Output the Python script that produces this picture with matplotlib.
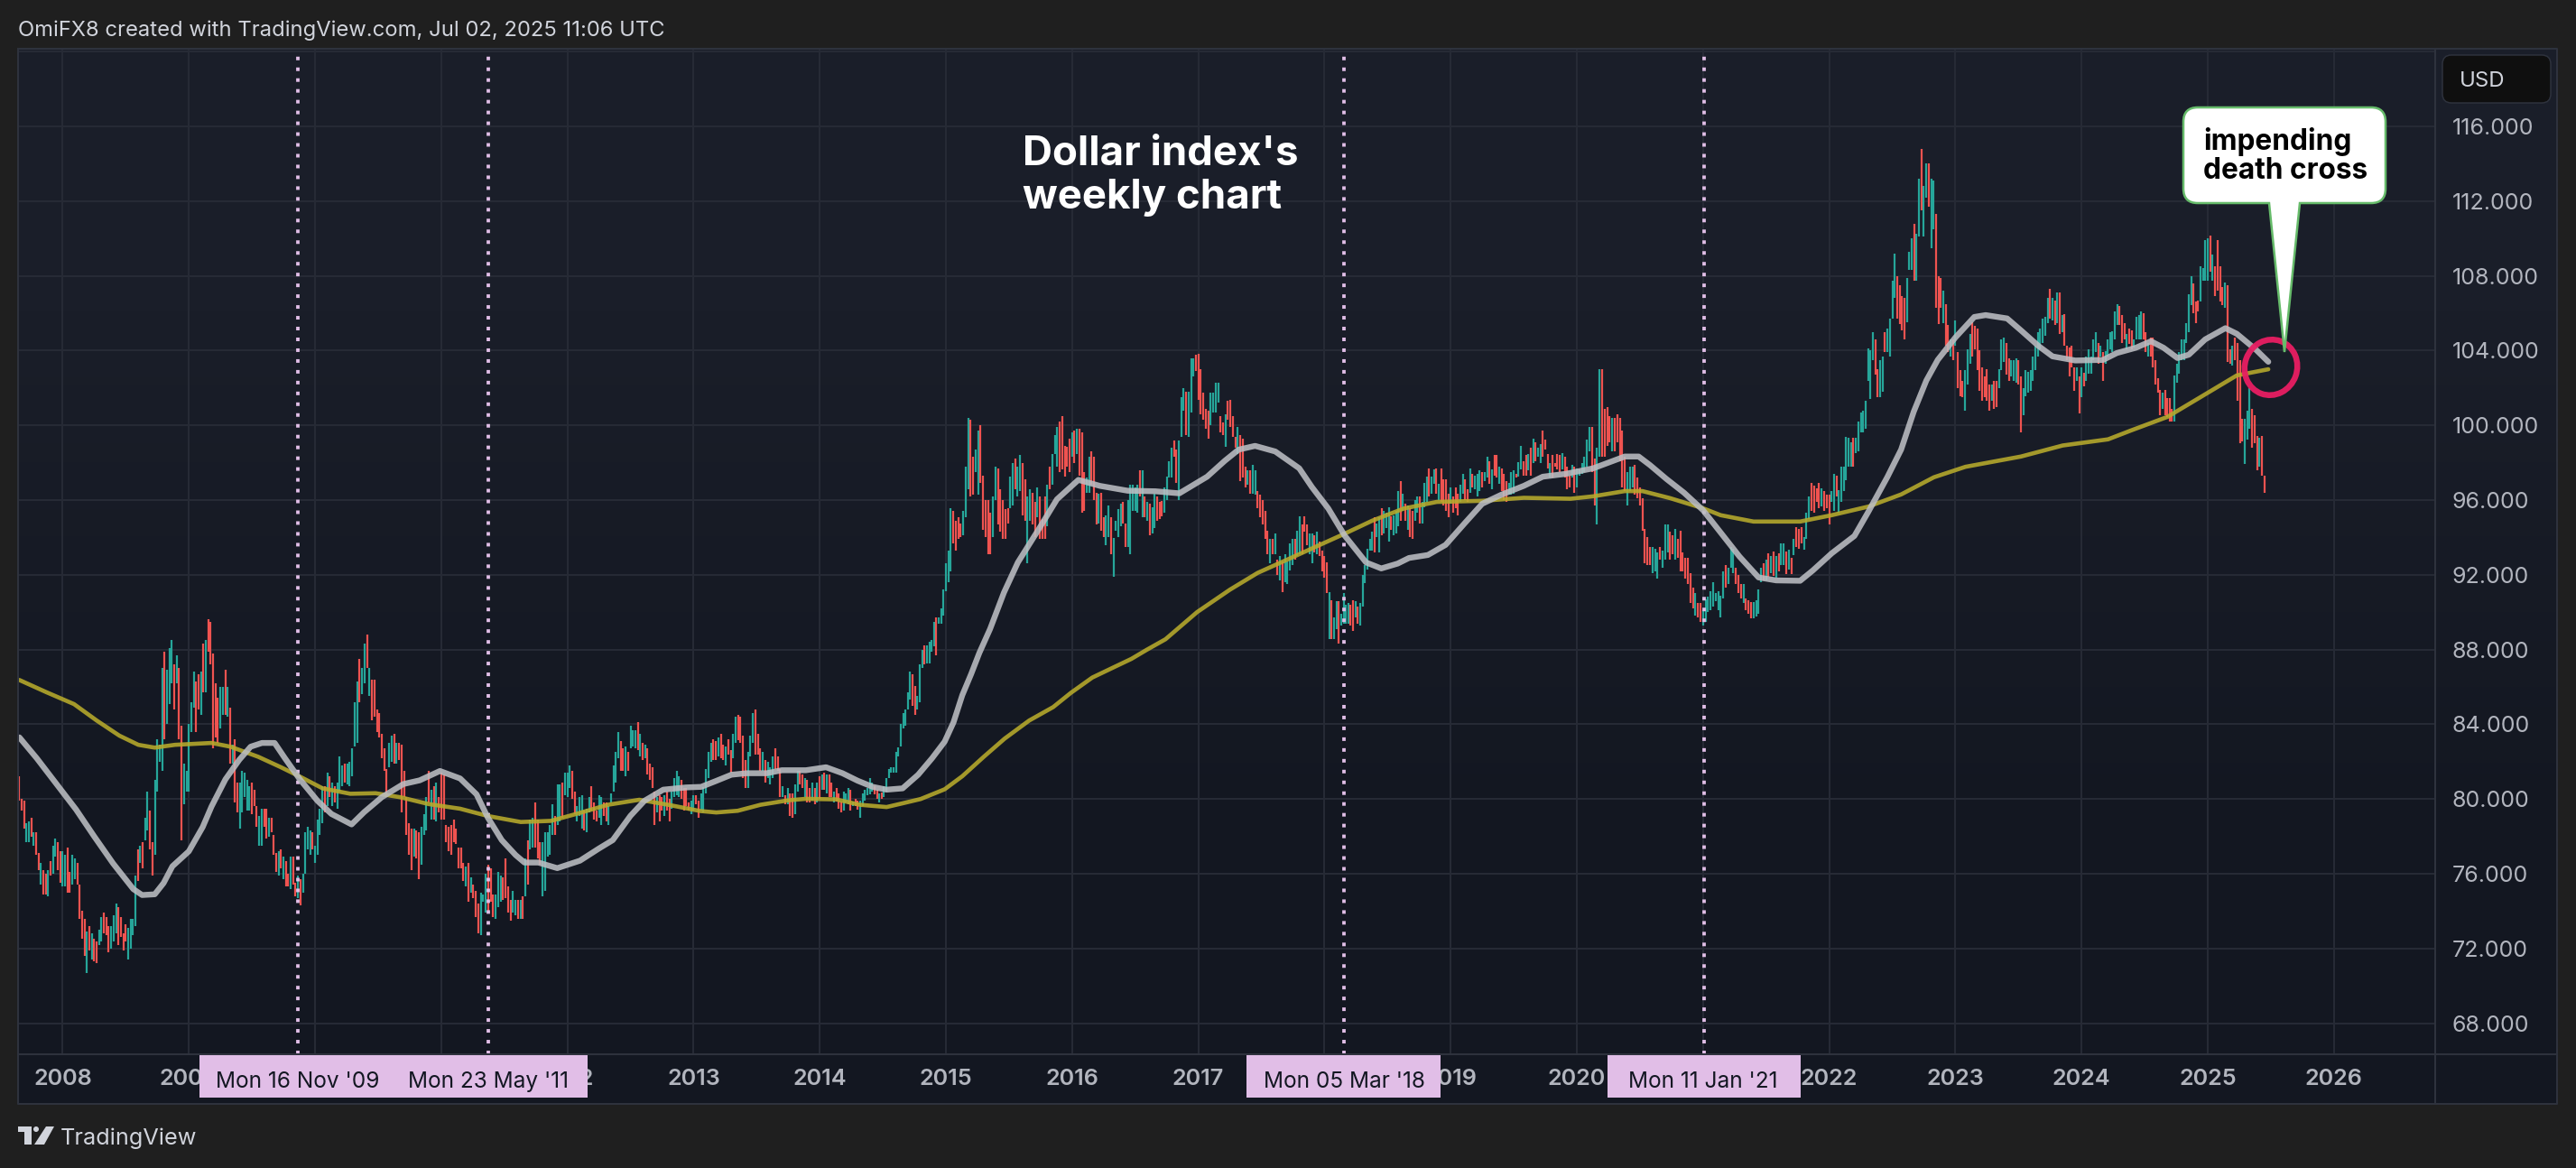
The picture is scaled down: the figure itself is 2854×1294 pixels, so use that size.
import numpy as np
import matplotlib
matplotlib.use("Agg")
import matplotlib.pyplot as plt
from matplotlib.collections import LineCollection
from matplotlib.patches import Ellipse, FancyBboxPatch, PathPatch, Polygon, Rectangle
from matplotlib.path import Path

bars_2007 = [81.2,79.9, 80.0,79.4, 79.9,78.4, 77.7,78.7, 77.7,78.8, 79.0,78.0, 77.5,78.2, 78.2,77.0, 77.1,76.2,
             75.4,76.6, 76.2,74.9, 76.0,74.9, 74.8,76.2, 76.7,75.9, 76.0,77.5, 76.9,77.9, 77.7,76.2, 77.2,75.5]
bars_2008 = [75.3,77.2, 75.3,77.0, 77.4,75.0, 76.1,75.0, 75.4,77.0, 75.7,76.8, 76.6,75.4, 75.4,73.6, 74.0,72.5,
             73.6,71.6, 70.7,72.9, 73.2,71.9, 71.4,72.8, 72.5,71.3, 72.4,71.2, 72.2,73.0, 72.4,73.7, 73.9,72.8,
             73.7,72.7, 73.2,71.8, 72.0,73.2, 72.4,73.8, 72.8,74.4, 74.2,72.2, 73.7,72.6, 72.8,71.9, 73.3,72.4,
             71.4,73.1, 72.0,73.6, 72.7,73.6, 73.2,75.9, 77.3,75.6, 76.6,77.5, 77.7,76.3, 77.8,79.0, 78.3,80.4,
             79.4,77.3, 77.7,75.9, 77.0,81.0, 80.4,83.2, 82.0,82.9, 81.5,87.0, 87.9,83.2, 84.0,86.9, 85.1,88.1,
             86.2,88.5, 87.2,84.8, 86.2,87.7, 87.0,83.2, 83.9,77.8, 79.7,81.9, 80.4,81.5]
bars_2009 = [80.4,84.0, 83.6,85.2, 84.9,86.8, 86.3,83.6, 86.7,84.8, 84.5,86.8, 88.3,85.7, 85.7,88.5, 89.6,87.9,
             89.5,87.2, 87.8,82.7, 86.2,83.3, 85.4,83.0, 83.8,86.0, 84.5,86.0, 86.9,84.5, 84.4,86.0, 84.9,81.9,
             81.9,82.9, 83.2,79.8, 80.9,79.3, 78.4,80.9, 79.3,81.5, 80.1,81.4, 79.4,81.0, 79.4,80.7, 80.9,79.2,
             80.5,79.6, 79.6,78.5, 77.5,79.1, 77.5,79.5, 79.5,78.5, 79.5,77.9, 78.0,79.0, 79.0,78.2, 78.1,77.0,
             77.1,76.1, 75.9,77.2, 77.3,76.3, 75.7,76.9, 76.7,75.3, 76.0,75.3, 75.2,76.9, 76.9,75.4, 75.5,74.8,
             74.7,75.9, 75.7,74.3, 75.0,76.0, 76.0,78.2, 77.3,78.5, 77.0,78.3, 78.2,77.3]
bars_2010 = [76.6,77.5, 77.0,78.9, 78.1,79.5, 78.7,80.7, 80.7,79.3, 79.6,81.4, 81.2,80.1, 79.6,80.9, 80.7,79.8,
             79.5,80.9, 80.4,82.3, 80.7,81.8, 81.9,80.9, 80.8,81.9, 80.7,82.0, 81.2,82.7, 82.8,85.2, 83.0,86.3,
             87.5,85.2, 85.6,87.0, 86.2,88.3, 88.8,87.0, 85.5,87.0, 86.4,84.2, 86.4,84.4, 84.8,83.6, 84.6,83.3,
             83.5,82.2, 82.7,81.5, 81.6,80.1, 81.7,83.0, 82.0,83.4, 83.5,81.9, 81.9,83.0, 83.0,82.1, 82.9,79.3,
             81.5,80.1, 80.1,78.1, 78.7,77.0, 78.4,76.2, 76.9,78.4, 78.3,76.8, 78.2,75.7, 76.5,78.5, 78.1,79.2,
             78.3,80.1, 81.5,79.8, 78.9,80.5, 80.7,78.9, 78.8,80.9, 80.1,79.3]
bars_2011 = [81.4,78.9, 81.3,78.9, 78.6,77.7, 78.5,77.2, 78.6,77.0, 78.9,77.7, 78.4,77.6, 77.4,76.3, 77.4,76.3,
             76.6,75.6, 75.3,76.4, 76.6,74.5, 75.0,75.8, 75.4,74.7, 75.1,73.7, 74.4,72.8, 72.7,75.0, 74.5,74.9,
             73.9,76.0, 76.5,74.0, 76.3,74.5, 74.9,73.7, 73.6,74.9, 74.2,76.1, 74.5,75.9, 75.8,74.6, 76.8,74.7,
             75.3,73.9, 74.6,73.5, 73.9,75.1, 73.8,74.6, 74.6,73.6, 73.6,74.6, 74.8,73.6, 74.8,76.8, 77.8,75.4,
             77.3,78.9, 77.4,79.0, 79.8,77.4, 78.9,76.8, 77.7,76.5, 74.8,77.7, 75.1,78.2, 76.9,78.2, 77.0,78.6,
             78.1,79.7, 79.1,78.1, 78.6,80.8, 78.8,80.8, 80.9,79.0, 80.2,81.4]
bars_2012 = [80.1,81.4, 80.6,81.8, 81.5,80.0, 80.4,79.2, 78.8,79.6, 79.1,80.1, 78.4,80.2, 79.4,78.3, 78.2,79.5,
             79.3,80.1, 80.7,79.4, 79.8,78.9, 79.4,78.8, 79.0,80.2, 78.6,80.1, 79.8,79.1, 79.8,78.8, 78.6,79.6,
             79.8,80.3, 80.4,81.8, 80.9,82.5, 82.2,83.6, 83.1,81.5, 82.7,81.5, 81.2,82.8, 82.5,81.5, 82.7,83.9,
             82.8,83.7, 82.7,83.7, 84.1,82.6, 82.3,83.5, 83.0,82.1, 82.2,82.9, 82.7,81.3, 81.9,81.0, 81.7,80.6,
             80.4,78.6, 79.3,80.1, 80.2,78.8, 80.1,79.4, 79.1,80.2, 80.4,79.4, 80.0,78.8, 79.5,80.4, 80.1,81.1,
             80.2,81.5, 80.1,81.2, 81.0,80.0, 80.6,79.4, 80.6,79.6, 79.8,79.4, 79.2,79.9]
bars_2013 = [79.4,80.2, 80.2,79.7, 79.9,79.0, 79.4,80.3, 79.3,80.65, 80.3,81.6, 81.1,82.5, 82.0,83.0, 83.2,82.1,
             83.1,82.1, 82.3,83.3, 83.5,82.2, 82.9,82.1, 81.8,82.8, 83.2,82.4, 82.6,81.4, 82.2,83.5, 83.0,84.4,
             84.5,83.15, 84.4,83.0, 83.4,81.1, 82.1,80.6, 80.6,82.5, 82.3,83.4, 83.0,84.6, 84.8,82.4, 83.5,82.4,
             82.7,81.5, 81.5,82.5, 82.1,80.9, 81.1,82.0, 80.8,81.7, 81.1,82.3, 82.7,81.6, 82.3,81.5, 81.6,80.1,
             80.1,80.7, 80.2,79.7, 79.7,80.6, 80.3,79.1, 80.3,79.0, 79.2,80.8, 80.4,81.5, 81.5,80.8, 81.3,80.6,
             80.1,81.1, 81.0,79.8, 80.6,79.8, 79.9,80.9, 80.6,79.7, 79.8,80.9]
bars_2014 = [81.2,80.0, 80.5,81.3, 81.4,80.5, 80.3,81.3, 81.3,80.1, 80.9,80.1, 79.8,80.4, 80.6,79.85, 80.3,79.5,
             79.85,79.3, 79.4,80.4, 79.8,80.3, 79.7,80.6, 80.5,79.4, 79.6,79.85, 80.0,79.6, 79.9,79.45, 79.0,79.9,
             79.6,80.3, 79.9,80.5, 80.2,80.6, 80.25,81.1, 80.4,80.9, 80.7,80.25, 80.5,80.0, 79.8,80.3, 80.35,80.0,
             80.1,80.7, 80.4,81.1, 81.1,81.6, 81.4,81.7, 81.4,81.7, 81.4,82.5, 82.3,82.75, 82.8,84.0, 83.8,84.6,
             83.9,84.8, 84.8,85.7, 85.3,86.8, 86.66,85.0, 86.05,84.5, 84.8,85.5, 85.2,87.2, 87.0,88.0, 88.2,87.2,
             87.26,88.2, 87.26,88.4, 87.9,88.5, 88.15,89.5, 89.7,87.7, 89.4,89.7, 89.4,90.2, 89.8,91.2]
bars_2015 = [91.1,92.6, 91.6,93.3, 92.2,95.55, 95.4,93.7, 94.9,93.3, 95.1,93.9, 94.75,94.0, 94.1,95.4, 95.1,97.8,
             96.6,100.4, 100.3,96.2, 98.3,96.3, 97.5,98.7, 96.3,99.7, 100.0,96.9, 97.3,94.4, 96.0,94.0, 96.0,93.1,
             95.3,93.1, 94.0,96.2, 96.0,97.8, 97.7,94.7, 96.6,94.3, 96.0,93.9, 95.5,93.9, 95.55,94.75, 95.55,97.25,
             95.7,98.0, 98.2,96.6, 96.2,97.8, 96.5,98.4, 98.0,95.2, 97.1,94.9, 92.6,96.2, 94.9,96.6, 96.4,94.7,
             95.9,94.0, 95.1,96.7, 96.2,93.9, 95.0,93.9, 96.2,93.9, 94.6,96.8, 97.8,96.6, 96.8,98.45, 98.45,99.5,
             97.8,99.9, 100.2,97.5, 100.5,97.65, 98.9,97.25, 98.85,97.8, 99.3,97.5]
bars_2016 = [98.3,99.6, 99.7,98.0, 98.45,99.8, 99.8,97.3, 99.6,95.3, 97.5,95.4, 96.4,97.2, 96.4,98.3, 98.6,96.8,
             98.3,96.0, 96.4,94.7, 94.75,96.35, 96.4,94.35, 95.1,94.0, 93.6,95.2, 94.0,95.7, 95.1,93.1, 91.9,93.95,
             94.35,94.9, 94.0,95.5, 94.6,95.8, 95.9,94.75, 94.75,93.5, 93.5,96.0, 93.1,96.8, 95.4,96.8, 95.4,96.7,
             95.3,96.8, 97.6,96.2, 95.1,97.6, 96.2,95.1, 94.9,95.9, 95.8,94.1, 94.2,95.6, 94.5,96.35, 96.2,94.9,
             95.9,95.0, 95.95,95.15, 95.3,96.7, 96.0,97.25, 97.2,98.1, 97.2,98.8, 99.2,98.3, 98.7,96.9, 96.0,99.2,
             99.4,101.5, 100.8,102.0, 101.8,99.5, 99.4,101.8, 100.7,103.6, 102.6,103.6, 103.8,102.9]
bars_2017 = [103.85,101.35, 103.0,100.6, 101.75,100.3, 100.9,99.8, 100.8,99.3, 100.0,101.75, 100.7,101.75, 100.7,102.3,
             101.2,102.3, 100.5,99.6, 100.15,99.5, 98.85,100.6, 101.3,100.3, 101.35,99.9, 100.5,99.4, 99.4,98.8,
             98.45,99.9, 99.5,97.0, 99.3,97.2, 97.8,96.7, 96.8,97.6, 97.6,96.35, 96.35,97.9, 96.3,97.6, 96.5,95.55,
             96.3,95.1, 96.0,94.7, 95.4,93.9, 94.35,93.1, 92.6,93.9, 93.9,93.1, 93.1,94.2, 92.8,92.0, 91.7,93.0,
             92.7,91.05, 91.6,93.1, 91.5,92.7, 92.25,93.7, 92.5,93.9, 93.9,92.8, 93.0,94.35, 93.1,95.15, 94.7,93.1,
             95.15,94.3, 94.7,93.6, 93.1,94.2, 92.6,94.2, 94.1,93.2, 93.1,94.3, 93.8,93.0, 93.3,92.2]
bars_2018 = [93.0,91.85, 92.65,91.0, 88.55,91.05, 90.65,88.55, 88.55,89.7, 89.1,90.6, 90.6,88.3, 89.3,89.9, 89.4,91.0,
             89.4,90.4, 89.4,90.5, 90.4,89.3, 90.65,89.0, 89.7,90.6, 90.3,89.4, 89.3,90.5, 90.3,92.0, 91.55,92.5,
             92.3,93.4, 93.3,93.9, 93.3,94.3, 95.1,93.2, 94.0,94.75, 93.2,95.1, 95.55,94.1, 94.2,95.4, 94.5,95.3,
             93.8,95.6, 95.15,94.4, 94.1,95.2, 94.2,95.4, 94.6,96.5, 97.0,94.9, 95.4,96.35, 95.8,94.9, 94.4,95.7,
             95.55,94.0, 95.4,93.9, 94.9,96.0, 95.3,96.2, 96.2,94.75, 94.75,95.9, 95.6,96.9, 95.9,97.25, 97.7,96.2,
             96.35,97.25, 96.85,97.65, 97.7,96.35, 96.0,96.85, 97.7,95.9, 97.1,95.7, 97.1,95.4, 96.35,95.1]
bars_2019 = [95.8,96.7, 96.2,95.3, 96.7,95.55, 96.35,95.2, 95.9,96.8, 96.35,97.4, 97.1,96.0, 96.6,95.9, 96.4,97.7,
             97.4,96.7, 96.6,97.3, 96.2,97.4, 96.5,97.6, 97.5,96.7, 97.0,97.5, 97.2,98.3, 98.1,96.85, 96.6,97.65,
             98.4,97.3, 98.4,97.2, 96.85,97.8, 97.7,96.5, 97.4,96.0, 97.0,95.9, 96.3,96.9, 96.3,97.5, 96.35,97.6,
             97.4,97.2, 97.25,98.05, 97.65,98.9, 98.1,97.3, 98.4,97.3, 97.6,98.45, 98.8,97.3, 98.0,99.3, 99.1,98.1,
             98.3,98.8, 98.0,99.0, 99.7,98.3, 99.25,98.7, 98.45,97.7, 97.2,98.0, 98.4,97.2, 98.0,97.8, 98.45,97.65,
             98.4,97.5, 97.65,98.5, 98.3,97.2, 97.8,96.6, 97.3,96.7, 97.2,97.9, 97.8,96.4]
bars_2020 = [96.7,97.7, 97.3,97.65, 97.4,98.0, 97.5,98.3, 97.8,99.25, 98.6,99.9, 99.9,97.5, 98.2,95.7, 94.7,98.8,
             98.3,103.0, 103.0,98.3, 100.9,98.3, 101.0,98.9, 100.5,99.1, 98.6,100.4, 100.4,98.6, 100.6,99.1, 100.4,98.1,
             99.7,96.7, 98.3,96.5, 95.7,97.5, 96.5,97.8, 96.7,97.8, 97.9,96.3, 97.2,96.1, 96.7,95.7, 96.1,94.35,
             94.45,92.6, 94.0,92.5, 93.5,92.5, 92.1,93.5, 92.2,93.4, 91.8,93.2, 93.5,92.8, 92.4,93.3, 92.8,94.7,
             93.2,94.7, 94.3,92.8, 94.1,93.1, 92.8,94.45, 93.9,92.9, 94.35,92.2, 93.2,92.2, 92.9,91.8, 92.9,91.5,
             92.1,90.5, 91.3,90.2, 89.8,91.0, 90.5,89.7, 90.5,89.5]
bars_2021 = [89.3,90.1, 89.5,90.7, 90.0,90.85, 90.1,91.1, 90.3,91.6, 90.6,91.0, 90.1,91.1, 89.7,90.9, 90.75,92.2,
             92.5,91.3, 91.5,92.4, 92.4,93.5, 92.1,93.4, 92.4,91.5, 92.0,91.0, 91.5,90.75, 90.5,91.5, 90.75,90.1,
             90.65,89.9, 90.55,89.65, 89.65,90.55, 89.75,90.65, 89.9,91.2, 91.6,92.4, 92.6,91.7, 91.7,92.8, 93.15,91.9,
             92.1,93.0, 93.25,91.95, 91.85,93.0, 93.15,92.2, 92.5,93.7, 92.5,93.7, 93.25,92.05, 92.3,93.35, 92.9,92.05,
             93.05,93.9, 94.55,93.5, 94.45,93.4, 94.55,93.7, 93.35,94.0, 93.9,95.3, 95.0,96.2, 96.9,95.4, 96.75,95.3,
             96.65,95.9, 96.9,95.55, 95.65,96.65, 96.5,95.4, 96.3,95.55]
bars_2022 = [96.3,94.7, 95.9,96.5, 95.4,97.4, 97.3,96.2, 95.3,96.55, 95.9,97.8, 96.5,97.8, 97.05,99.4, 97.8,99.35,
             97.8,99.1, 99.35,97.8, 98.5,99.35, 98.6,100.2, 99.6,100.7, 99.6,100.8, 99.8,101.3, 102.4,104.1, 101.4,104.0,
             103.5,105.0, 104.6,102.7, 103.0,101.5, 101.5,103.5, 101.8,103.7, 105.0,103.9, 103.9,105.2, 103.7,105.7,
             105.7,107.75, 106.8,109.2, 108.0,105.7, 107.5,105.4, 106.9,105.1, 106.8,104.6, 105.5,107.9, 108.3,109.3,
             108.3,110.0, 110.8,107.75, 107.75,110.25, 110.1,113.2, 114.8,111.5, 110.1,112.8, 112.2,114.0, 114.0,111.7,
             109.5,113.2, 110.5,113.1, 111.3,106.3, 108.0,105.4, 107.9,106.3, 105.45,107.2, 106.5,104.25, 105.35,103.9,
             103.7,104.6, 104.6,103.5]
bars_2023 = [104.25,105.6, 103.9,102.0, 102.95,101.55, 102.4,101.5, 100.8,102.95, 102.2,104.05, 103.3,104.9, 105.5,103.7,
             105.3,104.05, 105.2,102.95, 104.0,101.85, 103.1,101.3, 102.6,101.5, 103.0,101.3, 102.2,100.8, 101.3,102.2,
             102.4,100.9, 102.4,101.0, 102.0,103.0, 102.95,104.6, 103.4,104.7, 104.4,102.7, 103.6,102.4, 102.6,103.5,
             102.4,103.5, 102.3,103.6, 103.5,102.2, 102.6,99.6, 100.55,102.0, 101.55,102.95, 101.75,102.85, 101.85,102.95,
             102.4,103.7, 102.95,104.25, 103.7,105.0, 104.05,105.2, 104.4,105.7, 104.8,105.8, 105.45,106.8, 107.3,105.7,
             105.6,106.8, 106.7,105.35, 105.45,107.1, 107.1,104.9, 105.0,105.9, 105.95,104.25, 104.25,103.5, 104.15,102.6,
             104.25,103.1, 103.1,101.85, 102.4,103.1, 102.6,100.65]
bars_2024 = [101.5,103.1, 102.8,102.1, 102.4,103.7, 102.75,104.05, 102.75,103.7, 103.5,104.6, 103.9,105.0, 104.4,103.3,
             103.7,104.25, 103.9,102.4, 103.3,103.95, 103.7,104.6, 104.05,105.0, 103.9,105.05, 104.6,106.1, 105.35,106.5,
             106.4,105.35, 105.9,104.4, 105.45,104.6, 104.05,104.9, 105.2,104.35, 105.1,104.05, 104.15,104.6, 104.6,105.8,
             104.6,105.9, 104.6,106.1, 106.0,104.6, 105.0,103.9, 103.7,104.4, 104.7,103.7, 104.7,103.1, 103.5,102.2,
             102.5,101.75, 101.9,100.55, 100.9,101.75, 101.9,100.55, 101.45,100.45, 101.45,100.2, 100.9,100.2, 100.2,102.65,
             102.3,103.3, 102.75,103.9, 103.5,104.6, 103.5,104.6, 104.4,105.45, 105.0,107.0, 106.45,108.0, 107.6,106.0,
             106.65,105.45, 106.7,106.1, 106.65,108.5, 107.75,108.4, 107.75,109.9]
bars_2025 = [107.75,110.0, 110.15,108.2, 107.75,109.15, 108.5,106.9, 109.9,107.2, 108.5,106.65, 107.4,106.45, 106.3,107.65,
             107.5,103.4, 104.05,103.3, 103.2,104.25, 104.7,103.5, 104.4,101.3, 103.5,99.05, 100.35,99.15, 97.95,100.35,
             99.25,100.8, 99.8,102.0, 100.9,98.8, 100.55,99.05, 99.45,97.6, 97.8,99.35, 99.45,97.3, 97.3,96.4]

bars_by_year = {2007: bars_2007, 2008: bars_2008, 2009: bars_2009, 2010: bars_2010, 2011: bars_2011,
                2012: bars_2012, 2013: bars_2013, 2014: bars_2014, 2015: bars_2015, 2016: bars_2016,
                2017: bars_2017, 2018: bars_2018, 2019: bars_2019, 2020: bars_2020, 2021: bars_2021,
                2022: bars_2022, 2023: bars_2023, 2024: bars_2024, 2025: bars_2025}

# the two moving averages, read at turning points
ma50_t = [2007.657, 2007.795, 2007.94, 2008.106, 2008.25, 2008.40, 2008.56, 2008.63, 2008.73, 2008.80, 2008.87, 2009.0,
          2009.11, 2009.18, 2009.29, 2009.40, 2009.49, 2009.58, 2009.68, 2009.76, 2009.88, 2010.02, 2010.13, 2010.29,
          2010.39, 2010.53, 2010.7, 2010.83, 2010.99, 2011.15, 2011.28, 2011.37, 2011.48, 2011.59, 2011.66, 2011.77,
          2011.92, 2012.10, 2012.25, 2012.36, 2012.50, 2012.61, 2012.76, 2012.94, 2013.06, 2013.18, 2013.30, 2013.42,
          2013.58, 2013.70, 2013.89, 2014.05, 2014.18, 2014.30, 2014.42, 2014.53, 2014.657, 2014.78, 2014.89, 2014.99,
          2015.06, 2015.13, 2015.2, 2015.265, 2015.35, 2015.46, 2015.57, 2015.72, 2015.88, 2016.05, 2016.22, 2016.44,
          2016.66, 2016.85, 2017.07, 2017.21, 2017.32, 2017.45, 2017.61, 2017.80, 2017.90, 2018.03, 2018.16, 2018.33,
          2018.45, 2018.58, 2018.67, 2018.82, 2018.96, 2019.11, 2019.25, 2019.40, 2019.58, 2019.73, 2019.91, 2020.13,
          2020.38, 2020.49, 2020.58, 2020.71, 2020.85, 2021.0, 2021.14, 2021.29, 2021.44, 2021.58, 2021.77, 2021.87,
          2022.02, 2022.2, 2022.31, 2022.46, 2022.57, 2022.67, 2022.77, 2022.86, 2023.0, 2023.15, 2023.24, 2023.41,
          2023.52, 2023.66, 2023.77, 2023.95, 2024.17, 2024.28, 2024.43, 2024.55, 2024.65, 2024.76, 2024.85, 2024.98,
          2025.14, 2025.23, 2025.38, 2025.48]
ma50_p = [83.3, 82.18, 80.9, 79.44, 78.0, 76.55, 75.18, 74.86, 74.9, 75.5, 76.4, 77.2,
          78.5, 79.6, 81.05, 82.1, 82.8, 83.0, 83.0, 82.2, 81.05, 79.9, 79.2, 78.64,
          79.3, 80.1, 80.8, 81.0, 81.5, 81.1, 80.25, 79.0, 77.8, 77.0, 76.6, 76.6,
          76.3, 76.7, 77.35, 77.8, 79.1, 79.9, 80.5, 80.62, 80.65, 80.97, 81.3, 81.38,
          81.38, 81.54, 81.54, 81.7, 81.38, 80.98, 80.65, 80.5, 80.57, 81.3, 82.18, 83.07,
          84.1, 85.56, 86.69, 87.82, 89.1, 91.05, 92.66, 94.27, 96.04, 97.08, 96.76, 96.5,
          96.47, 96.36, 97.25, 98.1, 98.7, 98.9, 98.6, 97.7, 96.7, 95.55, 94.1, 92.66,
          92.34, 92.6, 92.9, 93.06, 93.6, 94.75, 95.8, 96.28, 96.76, 97.25, 97.4, 97.7,
          98.33, 98.33, 97.87, 97.13, 96.39, 95.46, 94.26, 92.97, 91.86, 91.7, 91.68, 92.23,
          93.15, 94.08, 95.37, 97.22, 98.7, 100.73, 102.4, 103.5, 104.7, 105.8, 105.9, 105.72,
          105.08, 104.24, 103.69, 103.47, 103.5, 103.87, 104.15, 104.5, 104.15, 103.6, 103.78, 104.6,
          105.2, 104.9, 104.06, 103.4]

ma200_t = [2007.657, 2007.87, 2008.09, 2008.27, 2008.45, 2008.60, 2008.73, 2008.89, 2009.18, 2009.33, 2009.55, 2009.73,
           2009.88, 2010.06, 2010.28, 2010.48, 2010.68, 2010.90, 2011.15, 2011.37, 2011.63, 2011.87, 2012.07, 2012.32,
           2012.57, 2012.80, 2013.05, 2013.18, 2013.35, 2013.53, 2013.75, 2013.89, 2014.13, 2014.32, 2014.53, 2014.657,
           2014.80, 2014.99, 2015.13, 2015.30, 2015.465, 2015.66, 2015.85, 2015.99, 2016.16, 2016.33, 2016.47, 2016.59,
           2016.74, 2016.99, 2017.25, 2017.47, 2017.76, 2018.16, 2018.38, 2018.63, 2018.89, 2019.25, 2019.58, 2019.95,
           2020.13, 2020.38, 2020.52, 2020.74, 2021.0, 2021.14, 2021.4, 2021.77, 2022.02, 2022.31, 2022.57, 2022.83,
           2023.08, 2023.52, 2023.85, 2024.21, 2024.39, 2024.68, 2024.98, 2025.23, 2025.48]
ma200_p = [86.37, 85.72, 85.08, 84.2, 83.39, 82.9, 82.75, 82.9, 83.0, 82.8, 82.26, 81.7,
           81.2, 80.57, 80.28, 80.31, 80.09, 79.73, 79.48, 79.09, 78.77, 78.83, 79.2, 79.69,
           79.96, 79.69, 79.36, 79.28, 79.37, 79.69, 79.93, 80.01, 79.98, 79.69, 79.57, 79.77,
           80.0, 80.52, 81.22, 82.26, 83.23, 84.2, 84.92, 85.68, 86.5, 87.05, 87.5, 87.98,
           88.55, 90.0, 91.2, 92.1, 92.98, 94.2, 94.9, 95.55, 95.9, 95.96, 96.12, 96.07,
           96.2, 96.48, 96.48, 96.1, 95.56, 95.19, 94.85, 94.85, 95.19, 95.65, 96.3, 97.22,
           97.78, 98.33, 98.92, 99.25, 99.72, 100.45, 101.66, 102.67, 103.0]

price_ticks = [68, 72, 76, 80, 84, 88, 92, 96, 100, 104, 108, 112, 116]
year_ticks = list(range(2008, 2027))

# marked weeks: decimal year, tag text
marked_t = [2009.864, 2011.371, 2018.153, 2021.008]
marked_labels = ["Mon 16 Nov '09", "Mon 23 May '11", "Mon 05 Mar '18", "Mon 11 Jan '21"]

W, H = 2854, 1294
PLOT_L, PLOT_R, PLOT_T, PLOT_B = 20, 2698, 54, 1168
AXIS_R, AXIS_B = 2833, 1223
FONT = ["Inter", "DejaVu Sans"]
TEAL, RED = "#26A69A", "#EF5350"
LILAC = "#E1BEE7"
GRID = "#262A35"
BORDER = "#2E323D"
LABEL = "#B2B5BE"


def px(n):
    # pixel size to points at dpi 100
    return n * 0.72


def bar_positions():
    xs, opens, closes = [], [], []
    for year, flat in bars_by_year.items():
        pairs = np.array(flat).reshape(-1, 2)
        n = len(pairs)
        if year == 2007:
            t = 2007.656 + np.arange(n) / 52.18
        elif year == 2025:
            t = 2025.0 + np.arange(n) * 1.02 / 52.18
        else:
            t = year + np.arange(n) / n
        xs.extend(t)
        opens.extend(pairs[:, 0])
        closes.extend(pairs[:, 1])
    return np.array(xs), np.array(opens), np.array(closes)


def draw_chart(ax):
    ax.set_xlim(2008 + (PLOT_L - 69.4) / 139.8, 2008 + (PLOT_R - 69.4) / 139.8)
    ax.set_ylim(116 - (PLOT_B - 140) / 20.7, 116 + (140 - PLOT_T) / 20.7)
    ax.patch.set_alpha(0)
    for s in ax.spines.values():
        s.set_visible(False)

    ax.set_xticks(year_ticks)
    ax.set_xticklabels([str(y) for y in year_ticks], fontfamily=FONT, fontweight="semibold",
                       fontsize=px(25.2), color=LABEL)
    ax.set_yticks(price_ticks + [120])
    ax.set_yticklabels(["%.3f" % p for p in price_ticks] + [""], fontfamily=FONT,
                       fontsize=px(25), color=LABEL)
    ax.yaxis.tick_right()
    ax.tick_params(axis="x", length=0, pad=px(16))
    ax.tick_params(axis="y", length=0, pad=px(19))
    ax.grid(True, color=GRID, lw=px(2))
    ax.set_axisbelow(True)

    xs, opens, closes = bar_positions()
    segs = [[(x, o), (x, c)] for x, o, c in zip(xs, opens, closes)]
    cols = [TEAL if c >= o else RED for o, c in zip(opens, closes)]
    ax.add_collection(LineCollection(segs, colors=cols, linewidths=px(2.2), zorder=3, capstyle="butt"))

    for t in marked_t:
        ax.axvline(t, color=LILAC, lw=px(3.8), dashes=(1.05, 2.1), zorder=4)

    ax.plot(ma200_t, ma200_p, color="#B8AB2C", lw=px(4.6), alpha=0.88, zorder=5,
            solid_capstyle="round", solid_joinstyle="round")
    ax.plot(ma50_t, ma50_p, color="#BCBEC3", lw=px(6.4), alpha=0.88, zorder=6,
            solid_capstyle="round", solid_joinstyle="round")


def draw_chrome(ov):
    ov.set_xlim(0, W)
    ov.set_ylim(H, 0)
    ov.axis("off")
    ov.patch.set_alpha(0)

    # pane dividers
    ov.plot([PLOT_L, AXIS_R, AXIS_R, PLOT_L, PLOT_L], [PLOT_T, PLOT_T, AXIS_B, AXIS_B, PLOT_T], color=BORDER, lw=px(2))
    ov.plot([PLOT_R, PLOT_R], [PLOT_T, AXIS_B], color=BORDER, lw=px(2))
    ov.plot([PLOT_L, AXIS_R], [PLOT_B, PLOT_B], color=BORDER, lw=px(2))

    ov.text(20, 40, "OmiFX8 created with TradingView.com, Jul 02, 2025 11:06 UTC", color="#D1D4DC",
            fontsize=px(23.8), family=FONT, va="baseline")
    ov.text(1133, 183, "Dollar index's", color="white", fontsize=px(45.6), family=FONT, fontweight="bold", va="baseline")
    ov.text(1133, 231, "weekly chart", color="white", fontsize=px(45.6), family=FONT, fontweight="bold", va="baseline")

    # USD badge
    ov.add_patch(FancyBboxPatch((2706 + 10, 61 + 10), 120 - 20, 53 - 20, boxstyle="round,pad=10,rounding_size=10",
                                fc="#0F0F0F", ec=BORDER, lw=px(1.5)))
    ov.text(2725, 87, "USD", color="#D1D4DC", fontsize=px(24), family=FONT, va="center_baseline")

    # date tags on the time axis
    ov.add_patch(Rectangle((221, PLOT_B), 430, 48, fc=LILAC, ec="none"))
    ov.add_patch(Rectangle((1381, PLOT_B), 215, 48, fc=LILAC, ec="none"))
    ov.add_patch(Rectangle((1781, PLOT_B), 214, 48, fc=LILAC, ec="none"))
    for cx, label in zip([330, 541, 1489, 1887], marked_labels):
        ov.text(cx, 1205, label, color="#131722", fontsize=px(24.4), family=FONT, ha="center", va="baseline")

    # pink ring around the crossing
    ov.add_patch(Ellipse((2516, 407), 58, 62, angle=20, fc="none", ec="#E91E63", lw=px(6.5), alpha=0.95, zorder=8))

    # callout box with its tail
    l, r, t, b, rad = 2419, 2643, 119, 225, 16
    tail_l, tail_r, tip_x, tip_y = 2514, 2548, 2531, 390
    verts = [(l + rad, t), (r - rad, t), (r, t), (r, t + rad), (r, b - rad), (r, b), (r - rad, b),
             (tail_r, b), (tip_x, tip_y), (tail_l, b), (l + rad, b), (l, b), (l, b - rad),
             (l, t + rad), (l, t), (l + rad, t), (l + rad, t)]
    codes = [Path.MOVETO, Path.LINETO, Path.CURVE3, Path.CURVE3, Path.LINETO, Path.CURVE3, Path.CURVE3,
             Path.LINETO, Path.LINETO, Path.LINETO, Path.LINETO, Path.CURVE3, Path.CURVE3,
             Path.LINETO, Path.CURVE3, Path.CURVE3, Path.CLOSEPOLY]
    ov.add_patch(PathPatch(Path(verts, codes), fc="white", ec="#66BB6A", lw=px(2.5), zorder=9))
    ov.text(2441, 166, "impending", color="black", fontsize=px(31.6), family=FONT, fontweight="bold", va="baseline", zorder=10)
    ov.text(2441, 198, "death cross", color="black", fontsize=px(31.6), family=FONT, fontweight="bold", va="baseline", zorder=10)

    # TradingView mark and name
    logo = "#D1D4DC"
    ov.add_patch(Polygon([(20, 1248), (35, 1248), (35, 1268), (27, 1268), (27, 1254), (20, 1254)], fc=logo, ec="none"))
    ov.add_patch(Ellipse((40, 1251), 6, 6, fc=logo, ec="none"))
    ov.add_patch(Polygon([(51, 1248), (60, 1248), (49, 1268), (38, 1268)], fc=logo, ec="none"))
    ov.text(67, 1268, "TradingView", color=logo, fontsize=px(25.3), family=FONT, va="baseline")


def main():
    fig = plt.figure(figsize=(W / 100, H / 100), dpi=100, facecolor="#1F1F1F")

    # pane background runs a little lighter at the top
    bg = fig.add_axes([PLOT_L / W, 1 - AXIS_B / H, (AXIS_R - PLOT_L) / W, (AXIS_B - PLOT_T) / H], zorder=0)
    bg.imshow(np.array([[[26, 30, 41]], [[19, 23, 33]]], dtype=np.uint8), aspect="auto", interpolation="bilinear")
    bg.axis("off")

    ax = fig.add_axes([PLOT_L / W, 1 - PLOT_B / H, (PLOT_R - PLOT_L) / W, (PLOT_B - PLOT_T) / H], zorder=1)
    draw_chart(ax)

    ov = fig.add_axes([0, 0, 1, 1], zorder=2)
    draw_chrome(ov)

    fig.savefig("out.png", dpi=100, facecolor=fig.get_facecolor())


if __name__ == "__main__":
    main()
